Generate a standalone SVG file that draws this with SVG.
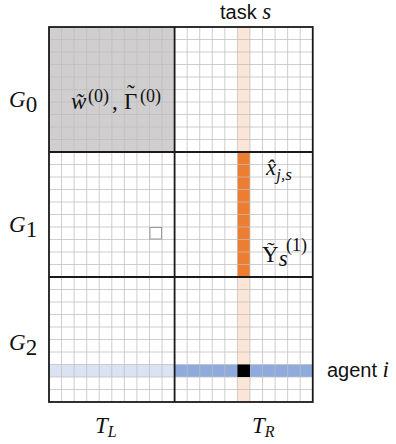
<svg xmlns="http://www.w3.org/2000/svg" width="396" height="444" viewBox="0 0 396 444">
<style>
.grid{fill:none;stroke:#bdbdbd;stroke-width:1;stroke-opacity:0.75}
.blk{fill:none;stroke:#1a1a1a;stroke-width:1.8}
.lbl{font-family:"Liberation Sans","Open Sans",sans-serif;font-size:20px;fill:#111}
.m{font-family:"Liberation Serif","DejaVu Serif",serif;font-style:italic;font-size:23px;fill:#111}
.r{font-family:"Liberation Serif","DejaVu Serif",serif;font-style:normal;font-size:23px;fill:#111}
.sup{font-family:"Liberation Serif","DejaVu Serif",serif;font-style:normal;font-size:18px;fill:#111}
</style>
<rect width="396" height="444" fill="#fff"/>
<g id="cells">
<rect x="49" y="27" width="125.6" height="125" fill="#d0cece"/>
<rect x="237.4" y="27" width="12.56" height="375" fill="#fbe5d6"/>
<rect x="237.4" y="152" width="12.56" height="125" fill="#ed7d31"/>
<rect x="49" y="364.5" width="125.6" height="12.5" fill="#dae3f3"/>
<rect x="174.6" y="364.5" width="138.16" height="12.5" fill="#8faadc"/>
</g>
<g id="grid">
<path class="grid" d="M61.56 27V402M74.12 27V402M86.68 27V402M99.24 27V402M111.8 27V402M124.36 27V402M136.92 27V402M149.48 27V402M162.04 27V402M187.16 27V402M199.72 27V402M212.28 27V402M224.84 27V402M237.4 27V402M249.96 27V402M262.52 27V402M275.08 27V402M287.64 27V402M300.2 27V402M49 39.5H312.76M49 52H312.76M49 64.5H312.76M49 77H312.76M49 89.5H312.76M49 102H312.76M49 114.5H312.76M49 127H312.76M49 139.5H312.76M49 164.5H312.76M49 177H312.76M49 189.5H312.76M49 202H312.76M49 214.5H312.76M49 227H312.76M49 239.5H312.76M49 252H312.76M49 264.5H312.76M49 289.5H312.76M49 302H312.76M49 314.5H312.76M49 327H312.76M49 339.5H312.76M49 352H312.76M49 364.5H312.76M49 377H312.76M49 389.5H312.76"/>
<rect x="149.98" y="227.5" width="11.56" height="11.5" fill="none" stroke="#999" stroke-width="1"/>
<rect x="237.4" y="364.5" width="12.56" height="12.5" fill="#000"/>
</g>
<g id="blocks">
<rect class="blk" x="49" y="27" width="263.76" height="375"/>
<path class="blk" d="M174.6 27V402M49 152H312.76M49 277H312.76"/>
</g>
<g id="labels">
<text class="lbl" x="220" y="19">task <tspan class="m" font-size="22">s</tspan></text>
<text class="m" x="9" y="107">G<tspan class="r" font-size="17" dy="5">0</tspan></text>
<text class="m" x="9" y="232">G<tspan class="r" font-size="17" dy="5">1</tspan></text>
<text class="m" x="9" y="350">G<tspan class="r" font-size="17" dy="5">2</tspan></text>
<text class="m" x="71" y="109">w&#x303;<tspan class="sup" x="88" y="102">(0)</tspan><tspan class="r" x="112" y="109">,</tspan><tspan class="r" x="124" y="109">Γ</tspan><tspan class="sup" x="140" y="102">(0)</tspan></text>
<text class="r" x="127" y="101" font-size="28">˜</text>
<text class="m" x="266" y="175">x&#x302;<tspan font-size="17" dy="5">j,s</tspan></text>
<text class="r" x="262" y="262">Y&#x303;<tspan class="m" font-size="18" dy="4">s</tspan><tspan class="sup" x="286" y="251">(1)</tspan></text>
<text class="lbl" x="327" y="377">agent <tspan class="m" font-size="22">i</tspan></text>
<text class="m" x="95" y="433">T<tspan font-size="16" dy="4">L</tspan></text>
<text class="m" x="252" y="433">T<tspan font-size="16" dy="4">R</tspan></text>
</g>
</svg>
